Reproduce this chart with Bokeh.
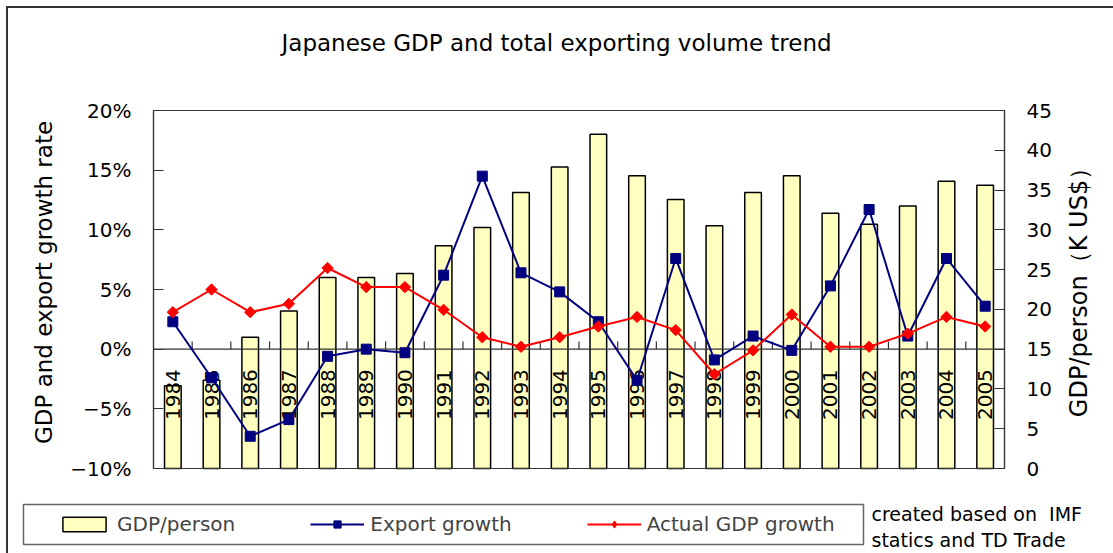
import math
from bokeh.plotting import figure
from bokeh.models import (Range1d, LinearAxis, FixedTicker, Legend, Label,
                          LegendItem, ColumnDataSource, BoxAnnotation,
                          CDSView, IndexFilter)
from bokeh.core.properties import value
from bokeh.embed import file_html
from bokeh.resources import INLINE

# ---------------- data ----------------
years = ["1984", "1985", "1986", "1987", "1988", "1989", "1990", "1991",
         "1992", "1993", "1994", "1995", "1996", "1997", "1998", "1999",
         "2000", "2001", "2002", "2003", "2004", "2005"]
gdp_per_person = [10.4, 11.1, 16.5, 19.8, 24.0, 24.0, 24.5, 28.0, 30.3, 34.7,
                  37.9, 42.0, 36.8, 33.8, 30.5, 34.7, 36.8, 32.1, 30.7, 33.0,
                  36.1, 35.6]          # K US$ (right axis)
export_growth = [2.3, -2.4, -7.3, -5.9, -0.6, 0.0, -0.3, 6.2, 14.5, 6.4, 4.8,
                 2.3, -2.6, 7.6, -0.9, 1.1, -0.1, 5.3, 11.7, 1.1, 7.6, 3.6]   # %
gdp_growth = [3.1, 5.0, 3.1, 3.8, 6.8, 5.2, 5.2, 3.3, 1.0, 0.2, 1.0, 1.9, 2.7,
              1.6, -2.1, -0.1, 2.9, 0.2, 0.2, 1.3, 2.7, 1.9]                 # %

left_ticks = [-10, -5, 0, 5, 10, 15, 20]
left_tick_labels = ["\u221210%", "\u22125%", "0%", "5%", "10%", "15%", "20%"]
right_ticks = [0, 5, 10, 15, 20, 25, 30, 35, 40, 45]

title_text = "Japanese GDP and total exporting volume trend"
left_title = "GDP and export growth rate"
right_title = "GDP/person\uff08K US$\uff09"
series_names = ["GDP/person", "Export growth", "Actual GDP growth"]
note_lines = ["created based on\u00a0 IMF", "statics and TD Trade"]

# ---------------- layout (pixel geometry of the page) ----------------
W, H = 1113, 553
FL, FR, FT, FB = 153, 1004, 110, 468      # plot-area edges in px
N = len(years)
L0, L1 = left_ticks[0], left_ticks[-1]
R0, R1 = right_ticks[0], right_ticks[-1]
FONT = "DejaVu Sans"

PXU = (FR - FL) / N                 # px per category
PYL = (FB - FT) / (L1 - L0)         # px per % (left)
PYR = (FB - FT) / (R1 - R0)         # px per K US$ (right)


def xd(px):
    return (px - FL) / PXU


def yd(py):
    return L1 - (py - FT) / PYL


xc = [i + 0.5 for i in range(N)]
bounds = list(range(1, N))

src = ColumnDataSource(dict(x=xc, year=years, gdp=gdp_per_person,
                            exp=export_growth, act=gdp_growth,
                            zero=[0] * N))

# the frame covers the whole canvas; ranges are padded so that the
# plotting region lands on the plot area of the reference
p = figure(width=W, height=H,
           x_range=Range1d(xd(0), xd(W)),
           y_range=Range1d(yd(H), yd(0)),
           x_axis_location=None, toolbar_location=None, output_backend="svg",
           min_border=0, min_border_left=0, min_border_right=0,
           min_border_top=0, min_border_bottom=0)
p.extra_y_ranges = {"gdp": Range1d(R0 - (H - FB) / PYR, R1 + FT / PYR)}
p.title.visible = False
p.grid.visible = False
p.outline_line_color = None
p.background_fill_alpha = 0
p.border_fill_color = None
p.styles = {"background-color": "white",
            "box-shadow": "inset 6px 6px 0 0 white, inset 8px 8px 0 0 #333333"}

# axes drawn at the plot-area edges
la = p.yaxis[0]
la.ticker = FixedTicker(ticks=left_ticks)
la.major_label_overrides = {t: s for t, s in zip(left_ticks, left_tick_labels)}
la.fixed_location = 0
la.bounds = (L0, L1)

ra = LinearAxis(y_range_name="gdp", ticker=FixedTicker(ticks=right_ticks),
                fixed_location=N, bounds=(R0, R1))
p.add_layout(ra, "right")

for ax in (la, ra):
    ax.major_tick_in = 10
    ax.major_tick_out = 0
    ax.minor_tick_line_color = None
    ax.major_label_standoff = 22
    ax.axis_line_color = "#333333"
    ax.axis_line_width = 1.2
    ax.major_tick_line_color = "#333333"
    ax.major_tick_line_width = 1.2
    ax.major_label_text_font = FONT
    ax.major_label_text_font_size = "20px"
    ax.major_label_text_color = "black"

# plot-area box
p.add_layout(BoxAnnotation(left=0, right=N, bottom=L0, top=L1,
                           fill_alpha=0, line_color="#333333", line_width=1.2,
                           line_alpha=1.0))

# bars
bars = p.vbar(x="x", top="gdp", bottom=0, width=0.43, source=src,
              y_range_name="gdp", fill_color="#FFFFC0", line_color="black",
              line_width=1.5)

# zero axis line and category ticks
p.segment(x0=[0], y0=[0], x1=[N], y1=[0], line_color="#333333", line_width=1.2)
p.segment(x0=bounds, y0=[0] * len(bounds), x1=bounds, y1=[0.65] * len(bounds),
          line_color="#333333", line_width=1.2)

# category labels
p.text(x="x", y="zero", text="year", source=src, angle=math.pi / 2,
       text_align="right", text_baseline="middle", y_offset=20,
       text_font=value(FONT), text_font_size="20px", text_color="black")

# lines
exp_line = p.line("x", "exp", source=src, line_color="#000080", line_width=2)
exp_pts = p.scatter("x", "exp", source=src, marker="square", size=10,
                    fill_color="#000080", line_color="#000080")
act_line = p.line("x", "act", source=src, line_color="#FF0000", line_width=2)
act_pts = p.scatter("x", "act", source=src, marker="square", size=8,
                    angle=math.pi / 4, fill_color="#FF0000",
                    line_color="#FF0000")
# diamond symbol for the legend key (sits inside the first red marker)
act_key = p.scatter("x", "act", source=src,
                    view=CDSView(filter=IndexFilter([0])), marker="diamond",
                    size=10, fill_color="#FF0000", line_color="#FF0000")

# legend frame + legend
p.add_layout(BoxAnnotation(left=xd(23), right=xd(863), top=yd(504),
                           bottom=yd(544), fill_color="white", fill_alpha=1.0,
                           line_color="#666666", line_width=1.5, line_alpha=1.0))
legend = Legend(items=[LegendItem(label=series_names[0], renderers=[bars]),
                       LegendItem(label=series_names[1], renderers=[exp_line, exp_pts]),
                       LegendItem(label=series_names[2], renderers=[act_line, act_key])],
                orientation="horizontal", location=(57, 17), padding=0,
                spacing=75, glyph_width=54, glyph_height=18, label_standoff=6,
                label_text_font=FONT, label_text_font_size="20px",
                border_line_alpha=0, background_fill_alpha=0, margin=0)
p.add_layout(legend)


def label(text, px, py, size, align="left", angle=0.0):
    return Label(x=xd(px), y=yd(py), text=text, angle=angle,
                 text_align=align, text_baseline="alphabetic",
                 text_font=FONT, text_font_size=size, text_color="black")


p.add_layout(label(title_text, 281, 42, "23px"))
p.add_layout(label(left_title, 43, 282, "23px", "center", math.pi / 2))
p.add_layout(label(right_title, 1078, 286, "24px", "center", math.pi / 2))
p.add_layout(label(note_lines[0], 871, 513, "19px"))
p.add_layout(label(note_lines[1], 871, 539, "19px"))

open("out.html", "w").write(file_html(p, INLINE))
